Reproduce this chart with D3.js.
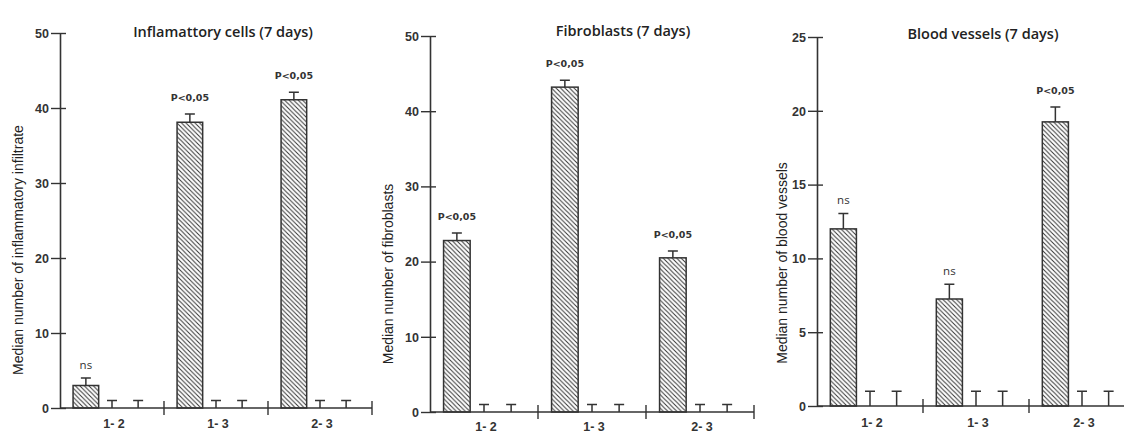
<!DOCTYPE html>
<html>
<head>
<meta charset="utf-8">
<script src="https://cdn.jsdelivr.net/npm/d3@7"></script>
<style>
  body { margin: 0; background: #fff; }
  svg { display: block; }
</style>
</head>
<body>
<div id="chart"></div>
<script>
// comparisons on the x axis
const groups = ['1- 2', '1- 3', '2- 3']

// medians per group: first slot is the real bar, other two are empty
const inflamValues = [[3.0, 0, 0], [38.1, 0, 0], [41.1, 0, 0]]
const inflamErrors = [[1.0, 1, 1], [1.1, 1, 1], [1.0, 1, 1]]
const inflamSig = ['ns', 'P<0,05', 'P<0,05']

const fibroValues = [[22.8, 0, 0], [43.2, 0, 0], [20.5, 0, 0]]
const fibroErrors = [[1.0, 1, 1], [0.9, 1, 1], [0.9, 1, 1]]
const fibroSig = ['P<0,05', 'P<0,05', 'P<0,05']

const vesselValues = [[12.0, 0, 0], [7.25, 0, 0], [19.25, 0, 0]]
const vesselErrors = [[1.05, 1, 1], [1.0, 1, 1], [1.0, 1, 1]]
const vesselSig = ['ns', 'ns', 'P<0,05']

const inflamTicks = [0, 10, 20, 30, 40, 50]
const fibroTicks = [0, 10, 20, 30, 40, 50]
const vesselTicks = [0, 5, 10, 15, 20, 25]

const width = 1124,
  height = 433

const svg = d3
  .select('#chart')
  .append('svg')
  .attr('width', width)
  .attr('height', height)

// diagonal hatch
svg
  .append('defs')
  .append('pattern')
  .attr('id', 'hatch')
  .attr('patternUnits', 'userSpaceOnUse')
  .attr('width', 4.5)
  .attr('height', 4.5)
  .append('path')
  .attr('d', 'M-1,-1L5.5,5.5M-1,3.5L1,5.5M3.5,-1L5.5,1')
  .attr('stroke', '#333')
  .attr('stroke-width', 1)

const INK = '#333'

const drawPanel = (p) => {
  const g = svg.append('g')

  const y = d3.scaleLinear().domain([0, p.max]).range([p.y0, p.yTop])
  const x = d3.scaleBand().domain(groups).range([p.left, p.right]).padding(0)
  const slot = d3
    .scaleBand()
    .domain([0, 1, 2])
    .range([0, x.bandwidth()])
    .paddingInner(0.02)
    .paddingOuter(0.5)

  // y axis
  const yAxis = g
    .append('g')
    .attr('transform', `translate(${p.left},0)`)
    .call(d3.axisLeft(y).tickValues(p.ticks).tickSize(9).tickSizeOuter(0).tickPadding(2))
  yAxis.select('.domain').attr('stroke', INK).attr('stroke-width', 1.6)
  yAxis.selectAll('.tick line').attr('x1', 6).attr('stroke', INK).attr('stroke-width', 1.4)
  yAxis
    .selectAll('.tick text')
    .attr('fill', INK)
    .style('font-family', 'Liberation Sans, Arial, sans-serif')
    .style('font-weight', 'bold')
    .style('font-size', '12.5px')
    .attr('dy', '0.35em')

  // x axis line with crossing ticks at group borders
  g.append('line')
    .attr('x1', p.left)
    .attr('x2', p.right)
    .attr('y1', p.y0)
    .attr('y2', p.y0)
    .attr('stroke', INK)
    .attr('stroke-width', 1.6)
  g.selectAll('.divider')
    .data(groups)
    .join('line')
    .attr('class', 'divider')
    .attr('x1', (d) => x(d) + x.bandwidth())
    .attr('x2', (d) => x(d) + x.bandwidth())
    .attr('y1', p.y0 - 7)
    .attr('y2', p.y0 + 7)
    .attr('stroke', INK)
    .attr('stroke-width', 1.4)

  g.selectAll('.cat')
    .data(groups)
    .join('text')
    .attr('class', 'cat')
    .attr('x', (d) => x(d) + x.bandwidth() / 2 + 2)
    .attr('y', p.catY)
    .attr('text-anchor', 'middle')
    .attr('fill', INK)
    .style('font-family', 'Liberation Sans, Arial, sans-serif')
    .style('font-weight', 'bold')
    .style('font-size', '12.5px')
    .text((d) => d)

  // flatten bars
  const bars = []
  groups.forEach((grp, i) => {
    p.values[i].forEach((v, j) => {
      bars.push({ grp, j, value: v, err: p.errors[i][j], sig: j === 0 ? p.sig[i] : null })
    })
  })

  const bx = (d) => x(d.grp) + slot(d.j)
  const cx = (d) => bx(d) + slot.bandwidth() / 2

  g.selectAll('.bar')
    .data(bars.filter((d) => d.value > 0))
    .join('rect')
    .attr('class', 'bar')
    .attr('x', bx)
    .attr('width', slot.bandwidth())
    .attr('y', (d) => y(d.value))
    .attr('height', (d) => y(0) - y(d.value))
    .attr('fill', 'url(#hatch)')
    .attr('stroke', INK)
    .attr('stroke-width', 1.5)

  // error bars (upper only)
  g.selectAll('.err')
    .data(bars)
    .join('path')
    .attr('class', 'err')
    .attr('d', (d) => {
      const top = y(d.value + d.err)
      return `M${cx(d)},${y(d.value)}V${top}M${cx(d) - 5},${top}H${cx(d) + 5}`
    })
    .attr('fill', 'none')
    .attr('stroke', INK)
    .attr('stroke-width', 1.5)

  g.selectAll('.sig')
    .data(bars.filter((d) => d.sig))
    .join('text')
    .attr('class', 'sig')
    .attr('x', cx)
    .attr('y', (d) => y(d.value + d.err) - (d.sig === 'ns' ? 9 : 13))
    .attr('text-anchor', 'middle')
    .attr('fill', INK)
    .style('font-family', (d) => (d.sig === 'ns' ? 'Open Sans, sans-serif' : 'DejaVu Sans, sans-serif'))
    .style('font-weight', (d) => (d.sig === 'ns' ? 'normal' : 'bold'))
    .style('font-size', (d) => (d.sig === 'ns' ? '11.5px' : '9.5px'))
    .text((d) => d.sig)

  // title
  g.append('text')
    .attr('x', p.titleX)
    .attr('y', p.titleY)
    .attr('text-anchor', 'middle')
    .attr('fill', '#222')
    .style('font-family', 'Open Sans, sans-serif')
    .style('font-weight', 600)
    .style('font-size', '14.5px')
    .text(p.title)

  // y label
  g.append('text')
    .attr('transform', `translate(${p.labelX},${p.labelY}) rotate(-90)`)
    .attr('text-anchor', 'middle')
    .attr('fill', '#222')
    .style('font-family', 'Liberation Sans, Arial, sans-serif')
    .style('font-size', '14px')
    .text(p.label)
}

drawPanel({
  title: 'Inflamattory cells (7 days)',
  label: 'Median number of inflammatory infiltrate',
  values: inflamValues,
  errors: inflamErrors,
  sig: inflamSig,
  ticks: inflamTicks,
  max: 50,
  left: 60,
  right: 372,
  y0: 408,
  yTop: 33,
  catY: 428,
  titleX: 223,
  titleY: 37,
  labelX: 23,
  labelY: 250,
})

drawPanel({
  title: 'Fibroblasts (7 days)',
  label: 'Median number of fibroblasts',
  values: fibroValues,
  errors: fibroErrors,
  sig: fibroSig,
  ticks: fibroTicks,
  max: 50,
  left: 430,
  right: 754,
  y0: 412,
  yTop: 36,
  catY: 431,
  titleX: 623,
  titleY: 36,
  labelX: 393,
  labelY: 274,
})

drawPanel({
  title: 'Blood vessels (7 days)',
  label: 'Median number of blood vessels',
  values: vesselValues,
  errors: vesselErrors,
  sig: vesselSig,
  ticks: vesselTicks,
  max: 25,
  left: 817,
  right: 1135,
  y0: 406,
  yTop: 37,
  catY: 427,
  titleX: 983,
  titleY: 39,
  labelX: 787,
  labelY: 263,
})
</script>
</body>
</html>
